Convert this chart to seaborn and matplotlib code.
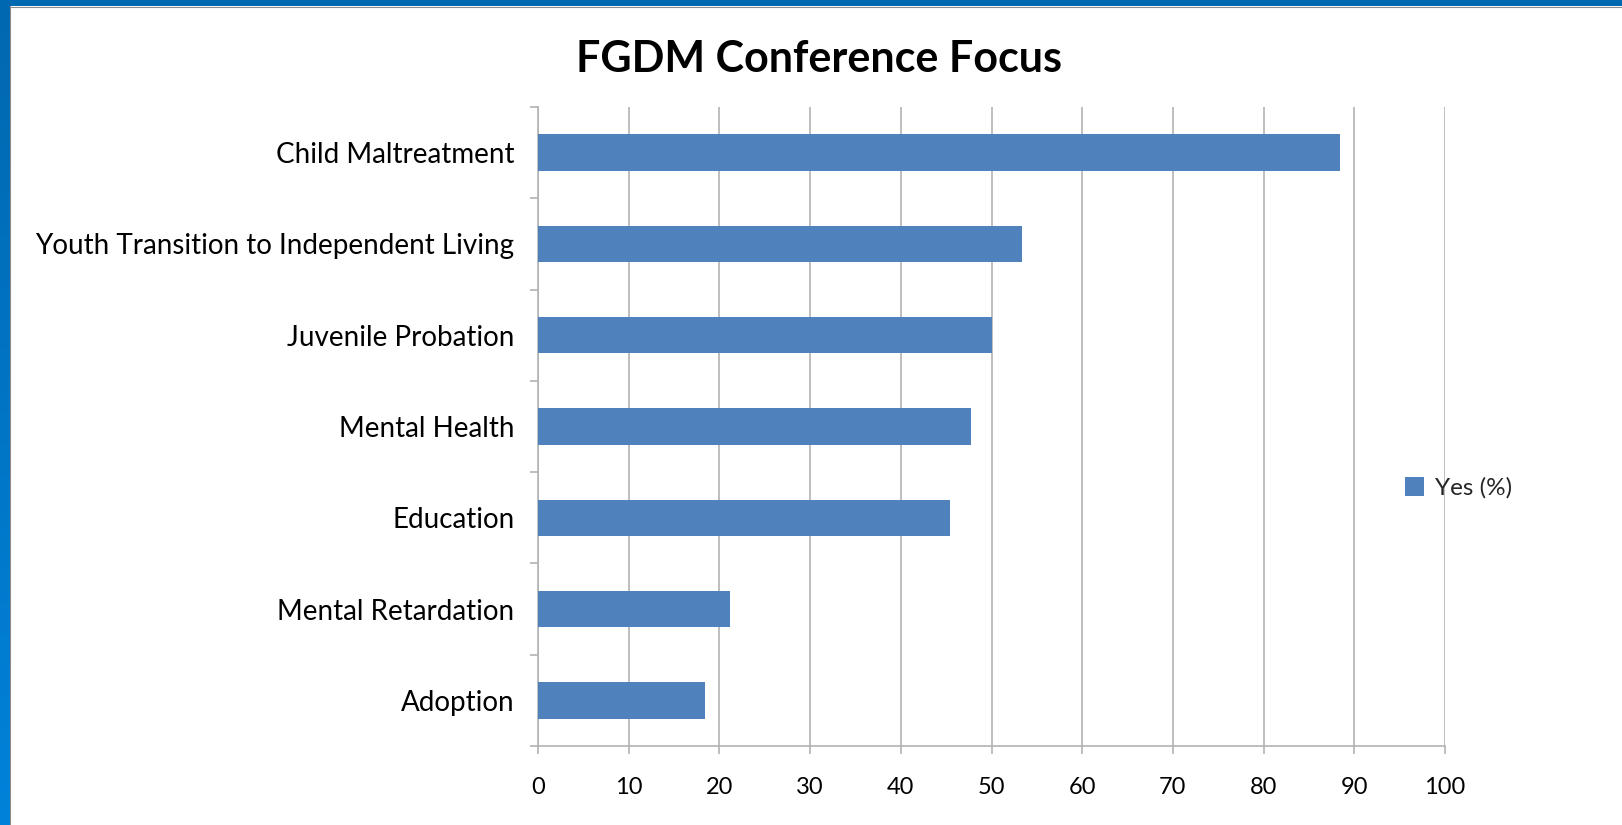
import matplotlib
matplotlib.use("Agg")
import matplotlib.pyplot as plt
import numpy as np
import pandas as pd
import seaborn as sns
from matplotlib.patches import Patch, Rectangle
from matplotlib.ticker import MultipleLocator, FixedLocator

categories = ["Child Maltreatment", "Youth Transition to Independent Living",
              "Juvenile Probation", "Mental Health", "Education",
              "Mental Retardation", "Adoption"]
yes_pct = [88.4, 53.4, 50.0, 47.7, 45.4, 21.2, 18.4]
series_name = "Yes (%)"

bar_color = "#4f81bd"
grid_color = "#b3b3b3"

sns.set_theme(style="white")
plt.rcParams["font.family"] = ["Lato", "DejaVu Sans"]

df = pd.DataFrame({"Focus": categories, "Pct": yes_pct})

fig = plt.figure(figsize=(16.22, 8.25), dpi=100)
ax = fig.add_axes([538 / 1622, 79 / 825, 907 / 1622, 639 / 825])

sns.barplot(data=df, x="Pct", y="Focus", orient="h", color=bar_color,
            width=0.4, saturation=1, ax=ax, zorder=3, linewidth=0)

ax.set_xlim(0, 100)
ax.set_ylim(len(categories) - 0.5, -0.5)
ax.xaxis.set_major_locator(MultipleLocator(10))
ax.grid(axis="x", color=grid_color, linewidth=1.2, zorder=0)
ax.grid(axis="y", visible=False)
ax.set_xlabel("")
ax.set_ylabel("")

for side in ["top", "right"]:
    ax.spines[side].set_visible(False)
for side in ["left", "bottom"]:
    ax.spines[side].set_color(grid_color)
    ax.spines[side].set_linewidth(1.2)

ax.tick_params(axis="y", which="major", length=0, pad=17, labelsize=20, labelcolor="black")
ax.yaxis.set_minor_locator(FixedLocator(np.arange(-0.5, len(categories), 1)))
ax.tick_params(axis="y", which="minor", left=True, length=6, width=1.2, color=grid_color)
ax.tick_params(axis="x", which="major", bottom=True, length=6, width=1.2, color=grid_color,
               pad=16, labelsize=17, labelcolor="black")

fig.text(0.505, 0.928, "FGDM Conference Focus", ha="center", va="center",
         fontsize=31, fontweight="bold", color="black")

handles = [Patch(facecolor=bar_color, edgecolor="none", label=series_name)]
ax.legend(handles=handles, loc="center left", bbox_to_anchor=(1405 / 1622, 1 - 488 / 825),
          bbox_transform=fig.transFigure, frameon=False, fontsize=17.5,
          handlelength=0.8, handleheight=0.8, handletextpad=0.45, borderaxespad=0,
          borderpad=0)

# blue slide frame on top and left edges
frame = fig.add_axes([0, 0, 10 / 1622, 1])
grad = np.linspace(0, 1, 256).reshape(-1, 1)
frame.imshow(grad, aspect="auto", extent=[0, 1, 0, 1],
             cmap=matplotlib.colors.LinearSegmentedColormap.from_list("b", ["#0068b0", "#0082da"]))
frame.set_axis_off()
fig.patches.append(Rectangle((0, 1 - 6 / 825), 1, 6 / 825, transform=fig.transFigure,
                             facecolor="#0068b0", edgecolor="none", zorder=5))
fig.lines.append(plt.Line2D([10 / 1622, 10 / 1622], [0, 1 - 6 / 825], transform=fig.transFigure,
                            color="#8c8c8c", linewidth=0.8))
fig.lines.append(plt.Line2D([10 / 1622, 1], [1 - 6.5 / 825, 1 - 6.5 / 825], transform=fig.transFigure,
                            color="#8c8c8c", linewidth=0.8))

fig.savefig("out.png", dpi=100)
